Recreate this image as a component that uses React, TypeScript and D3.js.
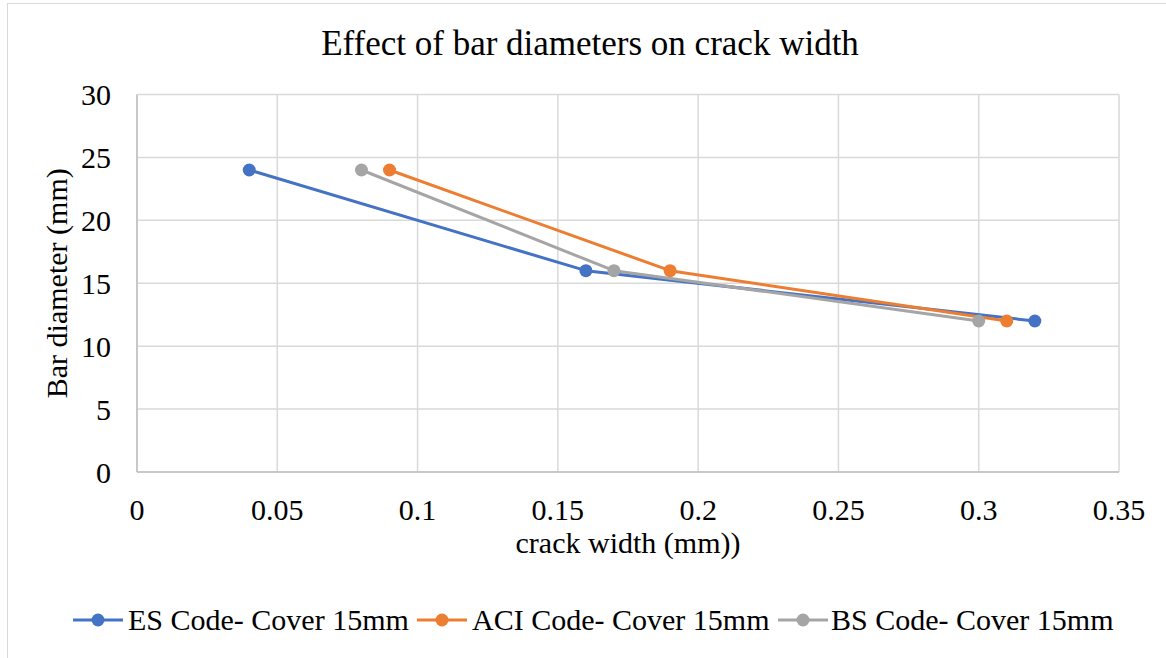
import React from "react";
import * as d3 from "d3";

// Series values: crack width (mm) against bar diameter (mm)
const barDiameters = [24, 16, 12];
const esCrackWidth = [0.04, 0.16, 0.32];
const aciCrackWidth = [0.09, 0.19, 0.31];
const bsCrackWidth = [0.08, 0.17, 0.3];

const seriesNames = ["ES Code- Cover 15mm", "ACI Code- Cover 15mm", "BS Code- Cover 15mm"];
const seriesColors = ["#4472C4", "#ED7D31", "#A5A5A5"];

const xTicks = [0, 0.05, 0.1, 0.15, 0.2, 0.25, 0.3, 0.35];
const yTicks = [0, 5, 10, 15, 20, 25, 30];

const W = 1166;
const H = 658;
const FONT = "'Liberation Serif', 'Times New Roman', serif";

export default function App() {
  const margin = { left: 137, right: 1119, top: 94.5, bottom: 472 };
  const x = d3.scaleLinear().domain([0, 0.35]).range([margin.left, margin.right]);
  const y = d3.scaleLinear().domain([0, 30]).range([margin.bottom, margin.top]);

  const series = [esCrackWidth, aciCrackWidth, bsCrackWidth].map((xs, i) => ({
    name: seriesNames[i],
    color: seriesColors[i],
    points: xs.map((v, j) => [v, barDiameters[j]] as [number, number]),
  }));

  const line = d3
    .line<[number, number]>()
    .x((d) => x(d[0]))
    .y((d) => y(d[1]));

  const legendItems = [
    { x0: 73, tx: 128 },
    { x0: 417, tx: 472 },
    { x0: 778, tx: 831 },
  ];

  return (
    <svg
      width={W}
      height={H}
      style={{ position: "absolute", left: 0, top: 0, background: "#fff", fontFamily: FONT }}
    >
      <rect x={7.5} y={3.5} width={1160} height={660} fill="#fff" stroke="#d9d9d9" strokeWidth={1} />

      <text x={590} y={55} textAnchor="middle" fontSize={35} fill="#000">
        Effect of bar diameters on crack width
      </text>

      {/* gridlines */}
      {yTicks.map((t) => (
        <line key={"gy" + t} x1={margin.left} x2={margin.right} y1={y(t)} y2={y(t)} stroke="#d9d9d9" strokeWidth={1.5} />
      ))}
      {xTicks.map((t) => (
        <line key={"gx" + t} x1={x(t)} x2={x(t)} y1={margin.top} y2={margin.bottom} stroke="#d9d9d9" strokeWidth={1.5} />
      ))}
      {/* axes */}
      <line x1={margin.left} x2={margin.left} y1={margin.top} y2={margin.bottom} stroke="#bfbfbf" strokeWidth={1.5} />
      <line x1={margin.left} x2={margin.right} y1={margin.bottom} y2={margin.bottom} stroke="#bfbfbf" strokeWidth={1.5} />

      {yTicks.map((t) => (
        <text key={"ty" + t} x={111} y={y(t)} dy="0.35em" textAnchor="end" fontSize={30} fill="#000">
          {t}
        </text>
      ))}
      {xTicks.map((t) => (
        <text key={"tx" + t} x={x(t)} y={520} textAnchor="middle" fontSize={30} fill="#000">
          {String(t)}
        </text>
      ))}

      <text x={628} y={553} textAnchor="middle" fontSize={30} fill="#000">
        crack width (mm))
      </text>
      <text
        transform={`translate(67,${(margin.top + margin.bottom) / 2}) rotate(-90)`}
        textAnchor="middle"
        fontSize={30}
        fill="#000"
      >
        Bar diameter (mm)
      </text>

      {series.map((s) => (
        <g key={s.name}>
          <path d={line(s.points) ?? ""} fill="none" stroke={s.color} strokeWidth={3} strokeLinejoin="round" />
          {s.points.map((p, j) => (
            <circle key={j} cx={x(p[0])} cy={y(p[1])} r={6.5} fill={s.color} />
          ))}
        </g>
      ))}

      {series.map((s, i) => (
        <g key={"lg" + i}>
          <line x1={legendItems[i].x0} x2={legendItems[i].x0 + 50} y1={620} y2={620} stroke={s.color} strokeWidth={3} />
          <circle cx={legendItems[i].x0 + 25} cy={620} r={6.5} fill={s.color} />
          <text x={legendItems[i].tx} y={630} fontSize={30} fill="#000">
            {s.name}
          </text>
        </g>
      ))}
    </svg>
  );
}
